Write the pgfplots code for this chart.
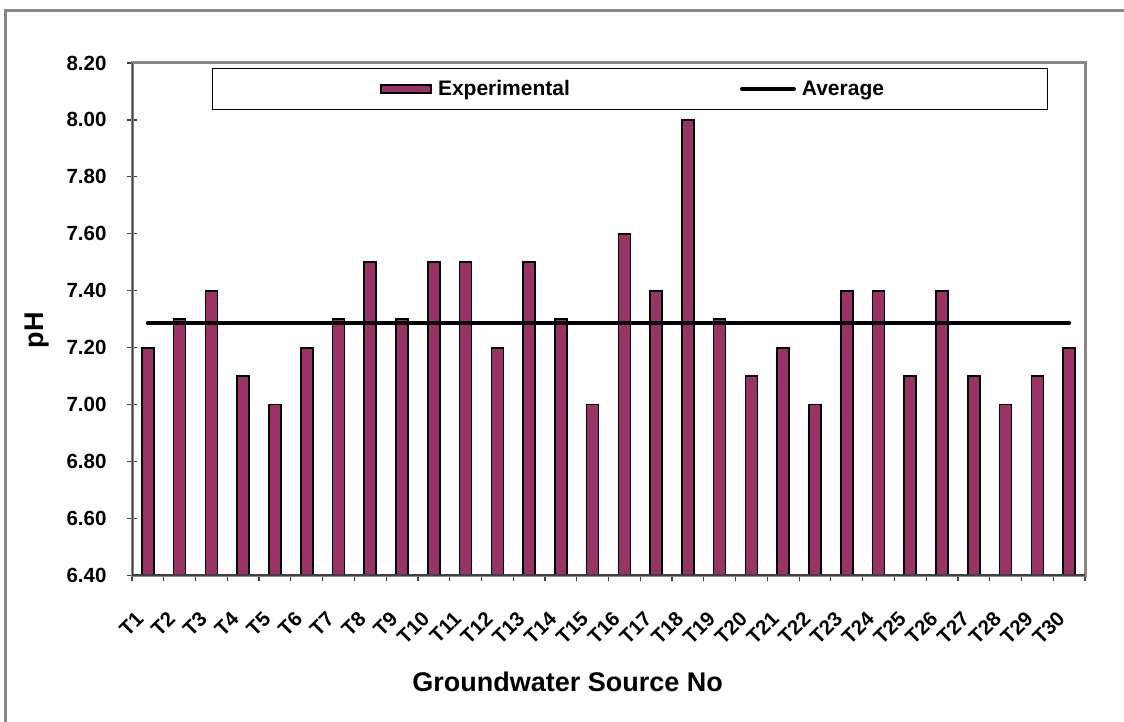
\documentclass[border=0pt]{standalone}
\usepackage{pgfplots}
\pgfplotsset{compat=1.18}
\usepackage{fontspec}
\setmainfont{Liberation Sans}
\definecolor{barcol}{HTML}{993366}
\definecolor{framegray}{HTML}{878787}
\definecolor{axisdark}{HTML}{404040}
\begin{document}
\begin{tikzpicture}
\path[use as bounding box] (0,0) rectangle (1124pt,722pt);
\draw[framegray, line width=3pt] (5.5pt,0pt) -- (5.5pt,711.5pt) -- (1124pt,711.5pt);
\begin{axis}[
  at={(132pt,146.5pt)}, anchor=south west,
  scale only axis, width=953pt, height=512.5pt,
  xmin=0.5, xmax=30.5, ymin=6.4, ymax=8.2,
  axis line style={framegray, line width=3pt},
  xtick={1,...,30},
  xticklabels={T1,T2,T3,T4,T5,T6,T7,T8,T9,T10,T11,T12,T13,T14,T15,T16,T17,T18,T19,T20,T21,T22,T23,T24,T25,T26,T27,T28,T29,T30},
  major x tick style={draw=none},
  minor xtick={0.5,1.5,...,30.5},
  minor tick length=6pt,
  ytick={6.4,6.6,...,8.21},
  tick align=outside,
  major tick length=10pt,
  tick style={axisdark, line width=1.2pt},
  ytick style={xshift=5pt},
  xtick pos=bottom, ytick pos=left,
  yticklabel style={font=\fontsize{20.5}{24}\selectfont\bfseries, xshift=-12pt, /pgf/number format/.cd, fixed, fixed zerofill, precision=2, assume math mode=true},
  xticklabel style={font=\fontsize{20.5}{24}\selectfont\bfseries, yshift=-35pt, xshift=-3pt, rotate=45, anchor=base east, inner sep=0pt},
  xlabel={Groundwater Source No},
  ylabel={pH},
  xlabel style={font=\fontsize{27}{31}\selectfont\bfseries, at={(axis description cs:0.457,-0.2267)}, anchor=base},
  ylabel style={font=\fontsize{27}{31}\selectfont\bfseries, at={(axis description cs:-0.0992,0.479)}, anchor=center},
  legend columns=2,
  legend style={at={(axis description cs:0.0839,0.990)}, anchor=north west,
    draw=black, line width=1pt, inner xsep=163pt, inner ysep=12pt,
    font=\fontsize{21}{25}\selectfont\bfseries,
    nodes={inner sep=0pt},
    /tikz/every odd column/.style={column sep=6pt},
    /tikz/every even column/.style={column sep=170pt}},
]
\addplot[ybar, bar width=12pt, fill=barcol, draw=black, line width=1.6pt,
  legend image code/.code={\path (-5pt,0pt); \draw[fill=barcol, draw=black, line width=1.6pt] (0pt,-4pt) rectangle (50pt,4pt);}]
  coordinates {
  (1,7.2) (2,7.3) (3,7.4) (4,7.1) (5,7.0) (6,7.2) (7,7.3) (8,7.5) (9,7.3) (10,7.5)
  (11,7.5) (12,7.2) (13,7.5) (14,7.3) (15,7.0) (16,7.6) (17,7.4) (18,8.0) (19,7.3) (20,7.1)
  (21,7.2) (22,7.0) (23,7.4) (24,7.4) (25,7.1) (26,7.4) (27,7.1) (28,7.0) (29,7.1) (30,7.2)};
\addlegendentry{Experimental}
\addplot[black, line width=4pt, line cap=round,
  legend image code/.code={\draw[black, line width=4pt, line cap=round] (0pt,0pt) -- (52pt,0pt);}]
  coordinates {(1,7.287) (30,7.287)};
\addlegendentry{Average}
\draw[axisdark, line width=2pt] (rel axis cs:0,1) -- (rel axis cs:0,0) -- (rel axis cs:1,0);
\end{axis}
\end{tikzpicture}
\end{document}
